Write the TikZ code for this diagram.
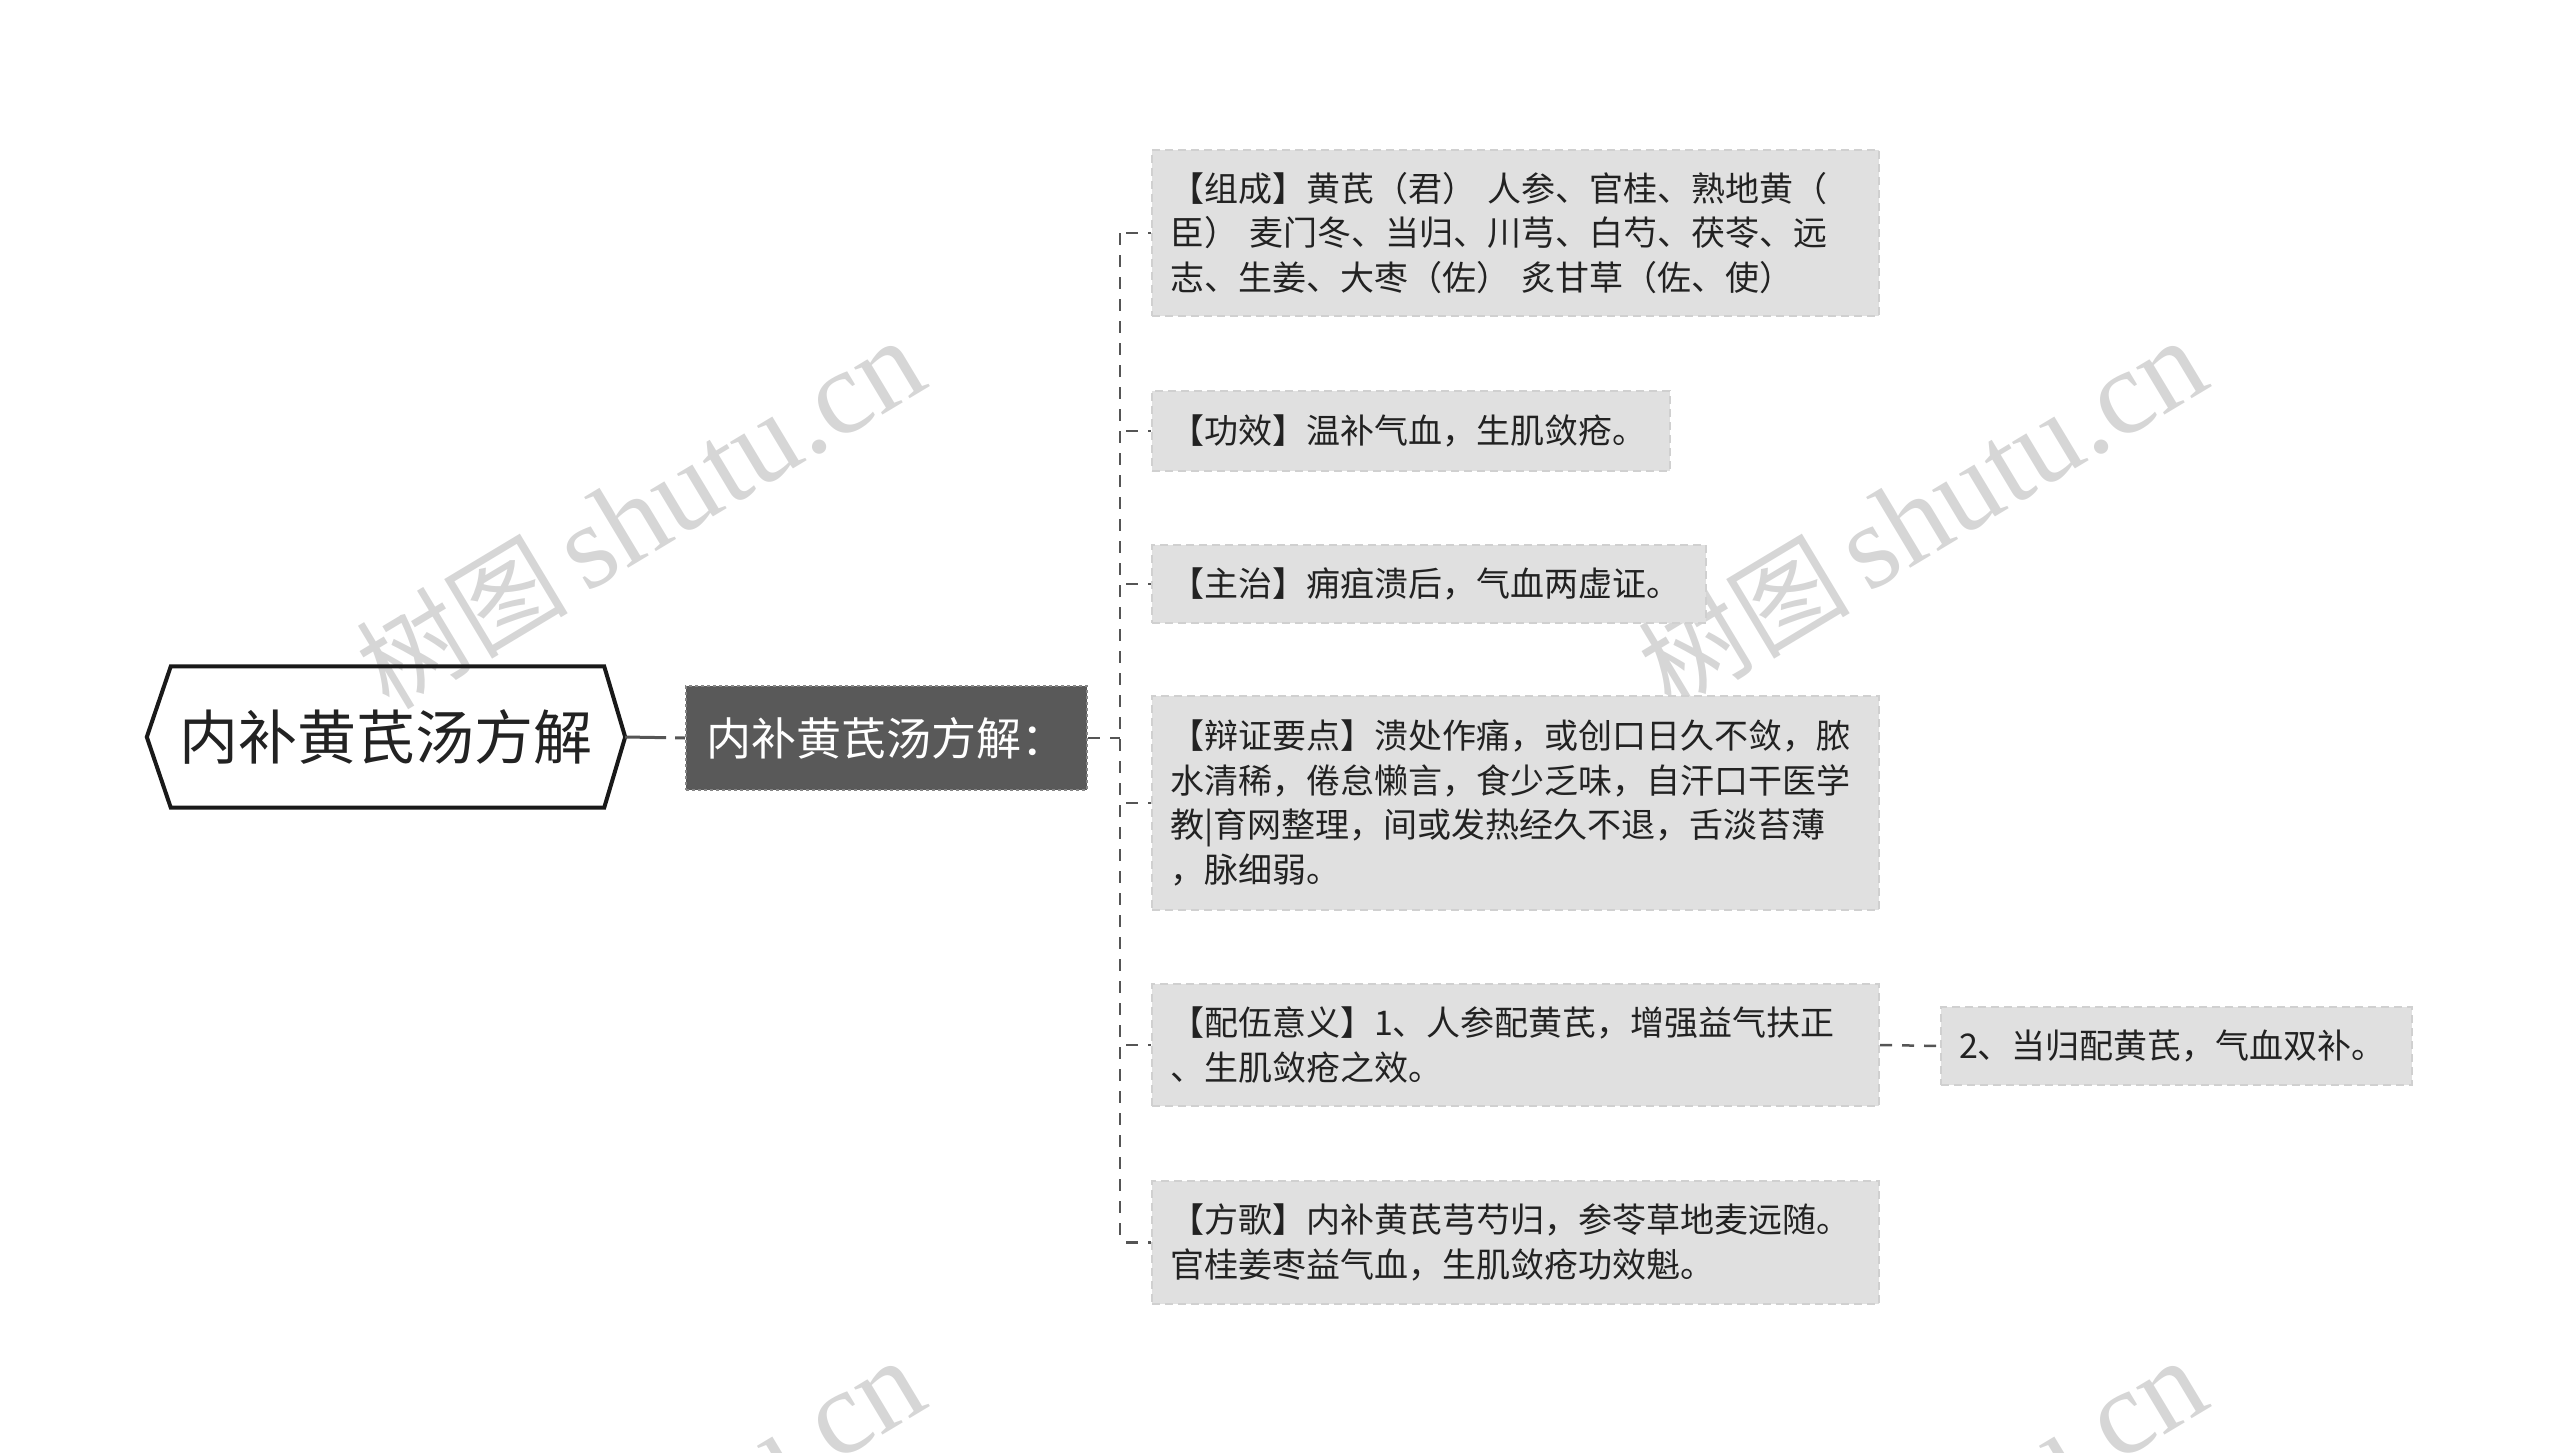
\documentclass[tikz,border=0pt]{standalone}
\usepackage{fontspec}
\setmainfont{Noto Sans CJK SC}
\newfontfamily\wmserif{Liberation Serif}
\newfontfamily\wmcjk{Noto Sans CJK SC}
\definecolor{wmgray}{HTML}{D6D6D6}
\definecolor{leaffill}{HTML}{E0E0E0}
\definecolor{leafline}{HTML}{D0D0D0}
\definecolor{darkfill}{HTML}{595959}
\definecolor{darkline}{HTML}{858585}
\definecolor{connline}{HTML}{555555}
\definecolor{txt}{HTML}{222222}
\begin{document}
\begin{tikzpicture}[x=1pt,y=-1pt,
  rootbox/.style={inner sep=0pt, minimum width=478pt, minimum height=141pt, text=txt,
    font=\fontsize{59}{70}\selectfont},
  rootline/.style={draw=black!90, line width=4pt, line join=miter},
  midbox/.style={fill=darkfill, draw=darkline, dashed, line width=2pt, text=white,
    minimum width=401pt, minimum height=104pt, inner sep=0pt,
    font=\fontsize{45}{54}\selectfont},
  leaf/.style={fill=leaffill, draw=leafline, dash pattern=on 8pt off 5pt, line width=2pt,
    text=txt, anchor=north west, align=left, inner xsep=18pt, inner ysep=4pt,
    font=\fontsize{34}{44.5}\selectfont},
  conn/.style={draw=connline, line width=2.5pt, dash pattern=on 12pt off 10pt},
  rootconn/.style={draw=connline, line width=3pt, dash pattern=on 41pt off 9pt on 12pt off 9pt},
  wm/.style={text=wmgray, rotate=31, inner sep=0pt}
]
\useasboundingbox (0,0) rectangle (2560,1453);

% watermarks
\begin{scope}
\clip (0,0) rectangle (2560,1453);
\node[wm] (wm1) at (640,514) {\wmcjk\fontsize{106}{110}\selectfont 树图\,\wmserif\fontsize{120}{122}\selectfont shutu.cn};
\node[wm] (wm2) at (1922,514) {\wmcjk\fontsize{106}{110}\selectfont 树图\,\wmserif\fontsize{120}{122}\selectfont shutu.cn};
\node[wm] (wm3) at (640,1534) {\wmcjk\fontsize{106}{110}\selectfont 树图\,\wmserif\fontsize{120}{122}\selectfont shutu.cn};
\node[wm] (wm4) at (1922,1534) {\wmcjk\fontsize{106}{110}\selectfont 树图\,\wmserif\fontsize{120}{122}\selectfont shutu.cn};
\end{scope}

% root
\node[rootbox] (root) at (386,737) {内补黄芪汤方解};
\draw[rootline] (root.west) -- ([xshift=24pt]root.north west) -- ([xshift=-21pt]root.north east)
  -- (root.east) -- ([xshift=-21pt]root.south east) -- ([xshift=24pt]root.south west) -- cycle;

% second level
\node[midbox] (mid) at (886.5,738) {内补黄芪汤方解：};
\draw[rootconn] (root.east) -- (mid.west);

% leaves
\node[leaf, text width=691pt, minimum height=166pt] (c1) at (1151,149)
  {【组成】黄芪（君） 人参、官桂、熟地黄（\\臣） 麦门冬、当归、川芎、白芍、茯苓、远\\志、生姜、大枣（佐） 炙甘草（佐、使）};
\node[leaf, text width=482pt, minimum height=80pt] (c2) at (1151,390)
  {【功效】温补气血，生肌敛疮。};
\node[leaf, text width=518pt, minimum height=78pt] (c3) at (1151,544)
  {【主治】痈疽溃后，气血两虚证。};
\node[leaf, text width=691pt, minimum height=214pt] (c4) at (1151,695)
  {【辩证要点】溃处作痛，或创口日久不敛，脓\\水清稀，倦怠懒言，食少乏味，自汗口干医学\\教|育网整理，间或发热经久不退，舌淡苔薄\\，脉细弱。};
\node[leaf, text width=691pt, minimum height=122pt] (c5) at (1151,983)
  {【配伍意义】1、人参配黄芪，增强益气扶正\\、生肌敛疮之效。};
\node[leaf, text width=691pt, minimum height=123pt] (c6) at (1151,1180)
  {【方歌】内补黄芪芎芍归，参苓草地麦远随。\\官桂姜枣益气血，生肌敛疮功效魁。};
\node[leaf, text width=435pt, minimum height=78pt] (c7) at (1940,1006)
  {2、当归配黄芪，气血双补。};

% connectors
\coordinate (tr) at (1120,0);
\draw[conn] (mid.east) -- (mid.east -| tr);
\draw[conn] (c1.west -| tr) -- (c6.west -| tr);
\foreach \c in {c1,c2,c3,c4,c5,c6}{
  \draw[conn] ([xshift=6pt]\c.west -| tr) -- (\c.west);
}
\draw[conn] (c5.east) -- (c7.west);
\end{tikzpicture}
\end{document}
